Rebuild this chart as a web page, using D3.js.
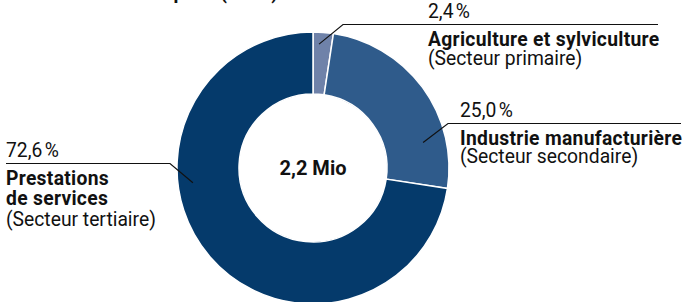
<!DOCTYPE html>
<html>
<head>
<meta charset="utf-8">
<script src="https://cdn.jsdelivr.net/npm/d3@7"></script>
<style>
  html, body { margin: 0; padding: 0; background: #fff; }
  svg { display: block; font-family: Roboto, "Liberation Sans", sans-serif; }
</style>
</head>
<body>
<svg id="chart" width="692" height="302"></svg>
<script>
// Data
const sectors = ["Agriculture et sylviculture", "Industrie manufacturière", "Prestations de services"];
const shares = [2.4, 25.0, 72.6];
const shareLabels = ["2,4\u202F%", "25,0\u202F%", "72,6\u202F%"];
const nameLines = [["Agriculture et sylviculture"], ["Industrie manufacturière"], ["Prestations", "de services"]];
const subLabels = ["(Secteur primaire)", "(Secteur secondaire)", "(Secteur tertiaire)"];
const colors = ["#6f82a9", "#2f5b8b", "#053a6b"];
const total = "2,2 Mio";
const title = "Structure des emplois (2022)";

// Layout
const cx = 313, cy = 168, rOuter = 136, rInner = 74;
const fs = 19.3;
const labels = [
  { angle: 2.8, r: 124, elbowX: 343, lineY: 24.5, endX: 658, textX: 428, step: 19 },
  { angle: 77, r: 113, elbowX: 448, lineY: 123.5, endX: 681, textX: 460, step: 18.5 },
  { angle: 263, r: 121, elbowX: 170, lineY: 163.5, endX: 6, textX: 6, step: 20.5 }
];

const svg = d3.select("#chart");

svg.append("text")
  .attr("x", 278).attr("y", -1)
  .attr("text-anchor", "end")
  .attr("font-size", fs).attr("font-weight", "bold")
  .attr("fill", "#111")
  .text(title);

const pie = d3.pie().sort(null).value(d => d);
const arcs = pie(shares);
const arc = d3.arc().innerRadius(rInner).outerRadius(rOuter);

const g = svg.append("g").attr("transform", `translate(${cx},${cy})`);
g.selectAll("path")
  .data(arcs)
  .join("path")
  .attr("d", arc)
  .attr("fill", (d, i) => colors[i])
  .attr("stroke", "white")
  .attr("stroke-width", 1.5);

g.append("text")
  .attr("x", 0).attr("y", 7)
  .attr("text-anchor", "middle")
  .attr("font-size", 20).attr("font-weight", "bold")
  .attr("fill", "#111")
  .text(total);

// Leader lines and labels
labels.forEach((l, i) => {
  const a = l.angle * Math.PI / 180;
  const px = cx + l.r * Math.sin(a), py = cy - l.r * Math.cos(a);
  svg.append("polyline")
    .attr("points", `${px},${py} ${l.elbowX},${l.lineY} ${l.endX},${l.lineY}`)
    .attr("fill", "none")
    .attr("stroke", "#111")
    .attr("stroke-width", 1.2);

  const t = svg.append("g").attr("fill", "#111").attr("font-size", fs);
  t.append("text")
    .attr("x", l.textX).attr("y", l.lineY - 6.5)
    .text(shareLabels[i]);
  let y = l.lineY + 21;
  nameLines[i].forEach(line => {
    t.append("text")
      .attr("x", l.textX).attr("y", y)
      .attr("font-weight", "bold")
      .attr("letter-spacing", 0.3)
      .text(line);
    y += l.step;
  });
  t.append("text")
    .attr("x", l.textX).attr("y", y)
    .text(subLabels[i]);
});
</script>
</body>
</html>
